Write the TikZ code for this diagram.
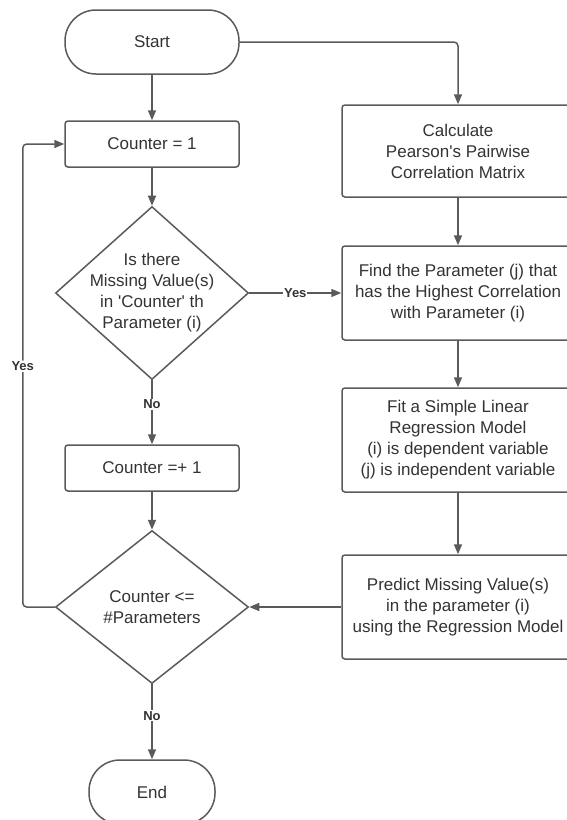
\documentclass[tikz,border=0pt]{standalone}
\usepackage{fontspec}
\setmainfont{Liberation Sans}
\usetikzlibrary{arrows.meta,calc,positioning,shapes.geometric}
\definecolor{linegray}{HTML}{5A5A5A}
\definecolor{textgray}{HTML}{333333}
\tikzset{
  term/.style={draw=linegray,rectangle,rounded corners=31pt,minimum width=174pt,minimum height=64pt,
    text=textgray,font=\fontsize{17}{21}\selectfont},
  procbox/.style={draw=linegray,rectangle,rounded corners=3pt,minimum width=174pt,minimum height=46pt,
    align=center,text=textgray,font=\fontsize{17}{21}\selectfont},
  wide/.style={procbox,minimum width=232pt},
  decide/.style={draw=linegray,diamond,inner sep=-25pt,align=center,
    text=textgray,font=\fontsize{17}{21}\selectfont},
  answer/.style={fill=white,inner sep=1pt,text=textgray,font=\fontsize{13}{15}\selectfont\bfseries}
}
\begin{document}
\begin{tikzpicture}[x=1pt,y=-1pt,>={Triangle[length=10pt,width=8pt]},line width=1.5pt,linegray]
  \useasboundingbox (0,0) rectangle (566,820);

  \node[term] (start) at (152,42) {Start};
  \node[procbox] (cnt1) at (152,144) {Counter = 1};
  \node[decide,minimum width=193pt,minimum height=173pt] (ismiss) at (152,293)
    {Is there\\Missing Value(s)\\in \textquotesingle Counter\textquotesingle{} th\\Parameter (i)};
  \node[procbox] (cnt2) at (152,468) {Counter =+ 1};
  \node[decide,minimum width=193pt,minimum height=153pt] (isle) at (152,607)
    {Counter <=\\\#Parameters};
  \node[term,minimum width=126pt] (finish) at (152,792) {End};

  \node[wide,minimum height=92pt] (calc) at (458,151)
    {Calculate\\Pearson\textquotesingle s Pairwise\\Correlation Matrix};
  \node[wide,minimum height=94pt] (find) at (458,293)
    {Find the Parameter (j) that\\has the Highest Correlation\\with Parameter (i)};
  \node[wide,minimum height=104pt] (fit) at (458,440)
    {Fit a Simple Linear\\Regression Model\\(i) is dependent variable\\(j) is independent variable};
  \node[wide,minimum height=104pt] (pred) at (458,607)
    {Predict Missing Value(s)\\in the parameter (i)\\using the Regression Model};

  \draw[->] (start) -- (cnt1);
  \draw[->,rounded corners=4pt] (start.east) -| (calc.north);
  \draw[->] (cnt1) -- (ismiss);
  \draw[->] (ismiss.east) -- node[answer]{Yes} (find.west);
  \draw[->] (ismiss.south) -- node[answer,pos=0.38]{No} (cnt2.north);
  \draw[->] (cnt2) -- (isle);
  \draw[->] (isle.south) -- node[answer,pos=0.42]{No} (finish.north);

  \draw[->] (calc) -- (find);
  \draw[->] (find) -- (fit);
  \draw[->] (fit) -- (pred);
  \draw[->] (pred.west) -- (isle.east);

  \draw[->,rounded corners=4pt] (isle.west) -- ++(-32,0) |- node[answer,pos=0.26]{Yes} (cnt1.west);
\end{tikzpicture}
\end{document}
